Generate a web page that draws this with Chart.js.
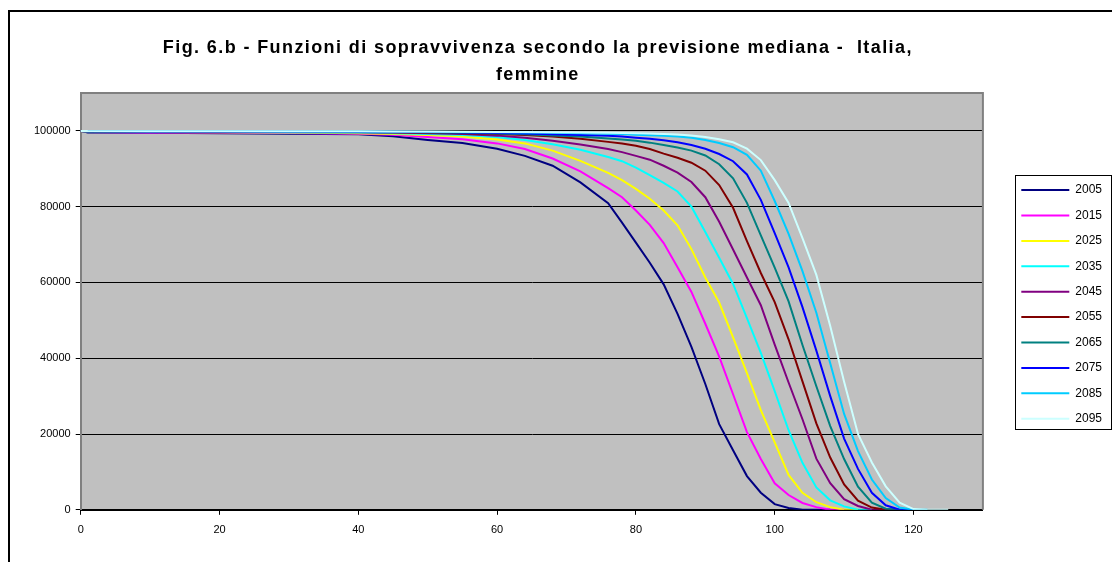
<!DOCTYPE html>
<html>
<head>
<meta charset="utf-8">
<title>Fig. 6.b - Funzioni di sopravvivenza</title>
<script src="https://cdn.jsdelivr.net/npm/chart.js@4.4.1/dist/chart.umd.min.js"></script>
<style>
    html, body { margin: 0; padding: 0; background: #ffffff; }
    #wrap { position: relative; width: 1112px; height: 562px; }
</style>
</head>
<body>
<div id="wrap"><canvas id="survival-chart" width="1112" height="562"></canvas></div>
<script>
// Age (x) and survivors out of 100000 for each projection year
const ages = [0, 1, 10, 20, 30, 40, 45, 50, 55, 60, 64, 68, 72, 76, 78, 80, 82, 84, 86, 88, 90, 92, 94, 96, 98, 100, 102, 104, 106, 108, 110, 112, 114, 116, 118, 120, 122, 125];

const years = ['2005', '2015', '2025', '2035', '2045', '2055', '2065', '2075', '2085', '2095'];

const l2005 = [100000, 99600, 99500, 99400, 99250, 99100, 98600, 97600, 96800, 95300, 93400, 90800, 86400, 80900, 75800, 70500, 65200, 59500, 51700, 43000, 33200, 22600, 15700, 8900, 4500, 1500, 500, 0, 0, 0, null, null, null, null, null, null, null, null];
const l2015 = [100000, 99700, 99600, 99550, 99450, 99250, 98950, 98400, 97800, 96700, 95200, 92700, 89300, 84900, 82500, 79000, 75200, 70400, 64000, 57500, 49100, 40400, 30500, 20500, 13400, 7000, 3900, 1800, 700, 0, 0, null, null, null, null, null, null, null];
const l2025 = [100000, 99750, 99700, 99650, 99550, 99400, 99200, 98900, 98500, 97700, 96700, 94800, 92100, 88900, 87000, 84700, 82100, 79000, 75100, 68800, 61300, 54700, 45500, 36100, 26300, 17800, 9200, 4500, 2000, 700, 0, 0, null, null, null, null, null, null];
const l2035 = [100000, 99800, 99750, 99700, 99650, 99550, 99400, 99200, 98900, 98400, 97600, 96500, 95000, 93100, 92000, 90300, 88300, 86300, 84000, 80000, 73300, 66500, 59600, 50600, 41400, 31300, 21000, 12400, 5900, 2500, 900, 0, 0, null, null, null, null, null];
const l2045 = [100000, 99850, 99800, 99750, 99700, 99650, 99550, 99400, 99150, 98750, 98200, 97400, 96400, 95200, 94400, 93400, 92400, 90800, 89000, 86500, 82500, 76000, 68700, 61300, 54000, 43600, 33600, 23900, 13500, 7000, 2800, 1000, 0, 0, null, null, null, null];
const l2055 = [100000, 99850, 99800, 99780, 99750, 99700, 99650, 99550, 99400, 99150, 98900, 98500, 97900, 97100, 96700, 96100, 95200, 94000, 92900, 91600, 89500, 85700, 79700, 70900, 62500, 54800, 45000, 33900, 22800, 13800, 6700, 2400, 600, 0, 0, null, null, null];
const l2065 = [100000, 99900, 99850, 99830, 99800, 99750, 99700, 99620, 99500, 99300, 99100, 98800, 98500, 98000, 97700, 97400, 96900, 96300, 95600, 94800, 93500, 91200, 87500, 81000, 72400, 63900, 55000, 43500, 32600, 22100, 13400, 6100, 1900, 300, 0, 0, null, null];
const l2075 = [100000, 99900, 99870, 99850, 99830, 99800, 99770, 99700, 99600, 99450, 99300, 99100, 98900, 98700, 98500, 98200, 97900, 97500, 97000, 96300, 95300, 93900, 92000, 88500, 81800, 73000, 64000, 53500, 42000, 30000, 18800, 10800, 4500, 1200, 0, 0, null, null];
const l2085 = [100000, 99920, 99900, 99880, 99860, 99840, 99820, 99780, 99720, 99650, 99580, 99500, 99400, 99250, 99150, 99000, 98850, 98700, 98500, 98200, 97600, 96800, 95700, 93700, 89500, 81500, 72800, 63000, 52000, 38700, 25300, 15500, 8000, 3100, 600, 0, 0, null];
const l2095 = [100000, 99950, 99930, 99910, 99900, 99880, 99860, 99830, 99790, 99740, 99700, 99640, 99580, 99500, 99450, 99380, 99300, 99200, 99050, 98800, 98400, 97800, 97000, 95300, 92300, 87000, 81000, 71700, 62000, 48500, 33800, 20000, 12500, 6200, 1900, 200, 0, 0];

const series = [l2005, l2015, l2025, l2035, l2045, l2055, l2065, l2075, l2085, l2095];

const xTicks = [0, 20, 40, 60, 80, 100, 120];
const yTicks = [0, 20000, 40000, 60000, 80000, 100000];

const lineColors = ['#000080', '#ff00ff', '#ffff00', '#00ffff', '#800080', '#800000', '#008080', '#0000ff', '#00ccff', '#ccffff'];

Chart.defaults.font.family = 'Arial, "Liberation Sans", sans-serif';
Chart.defaults.color = '#000000';

// Grey plot area, outer frame, spaced-out title and the box round the legend
const chartFrame = {
    id: 'chartFrame',
    beforeDraw(chart) {
        const { ctx, chartArea: area } = chart;
        const title = chart.titleBlock;
        if (title && !title._spaced) {
            const drawTitle = title.draw.bind(title);
            title.draw = () => {
                chart.ctx.save();
                chart.ctx.letterSpacing = '1.4px';
                chart.ctx.translate(6, 0);
                drawTitle();
                chart.ctx.restore();
            };
            title._spaced = true;
        }
        ctx.save();
        ctx.fillStyle = '#000000';
        ctx.fillRect(8, 10, chart.width - 8, 2);
        ctx.fillRect(8, 10, 2, chart.height - 10);
        ctx.fillStyle = '#c0c0c0';
        ctx.fillRect(area.left, area.top, area.width, area.height);
        ctx.restore();
    },
    beforeDatasetsDraw(chart) {
        const { ctx, chartArea: area } = chart;
        ctx.save();
        ctx.strokeStyle = '#808080';
        ctx.lineWidth = 2;
        ctx.beginPath();
        ctx.moveTo(area.left, area.top);
        ctx.lineTo(area.right, area.top);
        ctx.lineTo(area.right, area.bottom);
        ctx.stroke();
        ctx.restore();
    },
    afterDraw(chart) {
        const boxes = chart.legend.legendHitBoxes;
        if (!boxes || !boxes.length) return;
        const first = boxes[0];
        const last = boxes[boxes.length - 1];
        const x0 = Math.round(first.left - 6);
        const y0 = Math.round(first.top - 9);
        const y1 = Math.round(last.top + last.height + 4);
        const ctx = chart.ctx;
        ctx.save();
        ctx.strokeStyle = '#000000';
        ctx.lineWidth = 1;
        ctx.strokeRect(x0 + 0.5, y0 + 0.5, chart.width - 1 - x0, y1 - y0);
        ctx.restore();
    }
};

const ctx = document.getElementById('survival-chart').getContext('2d');
const chart = new Chart(ctx, {
    type: 'line',
    data: {
        datasets: years.map((year, i) => ({
            label: year,
            data: ages.map((age, j) => ({ x: age, y: series[i][j] })),
            borderColor: lineColors[i],
            backgroundColor: lineColors[i],
            borderWidth: 2,
            pointRadius: 0,
            tension: 0,
            spanGaps: false,
            order: years.length - 1 - i
        }))
    },
    options: {
        responsive: false,
        animation: false,
        devicePixelRatio: 1,
        layout: { padding: { left: 29, right: 0, top: 0, bottom: 16 } },
        plugins: {
            title: {
                display: true,
                fullSize: false,
                text: ['Fig. 6.b - Funzioni di sopravvivenza secondo la previsione mediana -  Italia,', 'femmine'],
                color: '#000000',
                font: { size: 18, weight: 'bold', lineHeight: 1.5 },
                padding: { top: 35, bottom: 4 }
            },
            legend: {
                display: true,
                position: 'right',
                fullSize: false,
                align: 'center',
                title: { display: true, text: ' ', padding: 0, font: { size: 6, lineHeight: 1 } },
                labels: {
                    boxWidth: 48,
                    boxHeight: 2,
                    padding: 13.4,
                    color: '#000000',
                    font: { size: 12 },
                    sort: (a, b) => a.datasetIndex - b.datasetIndex,
                    generateLabels: (c) => Chart.defaults.plugins.legend.labels.generateLabels(c)
                        .map(item => ({ ...item, lineWidth: 0 }))
                }
            },
            tooltip: { enabled: false }
        },
        scales: {
            x: {
                type: 'linear',
                min: 0,
                max: 130,
                afterBuildTicks: (axis) => { axis.ticks = xTicks.map(v => ({ value: v })); },
                grid: { drawOnChartArea: false, drawTicks: true, tickLength: 5, color: '#000000' },
                border: { color: '#000000', width: 2 },
                ticks: { font: { size: 11 }, color: '#000000', padding: 9, maxRotation: 0 }
            },
            y: {
                type: 'linear',
                min: 0,
                max: 110000,
                afterBuildTicks: (axis) => { axis.ticks = yTicks.map(v => ({ value: v })); },
                grid: { color: '#000000', lineWidth: 1, drawTicks: true, tickLength: 5, tickColor: '#000000' },
                border: { color: '#808080', width: 2 },
                ticks: { font: { size: 11 }, color: '#000000', padding: 5, callback: (v) => String(v) }
            },
            gap: {
                type: 'linear',
                position: 'right',
                display: true,
                grid: { display: false },
                border: { display: false },
                ticks: { display: false },
                afterFit: (axis) => { axis.width = 25; }
            }
        }
    },
    plugins: [chartFrame]
});
</script>
</body>
</html>
